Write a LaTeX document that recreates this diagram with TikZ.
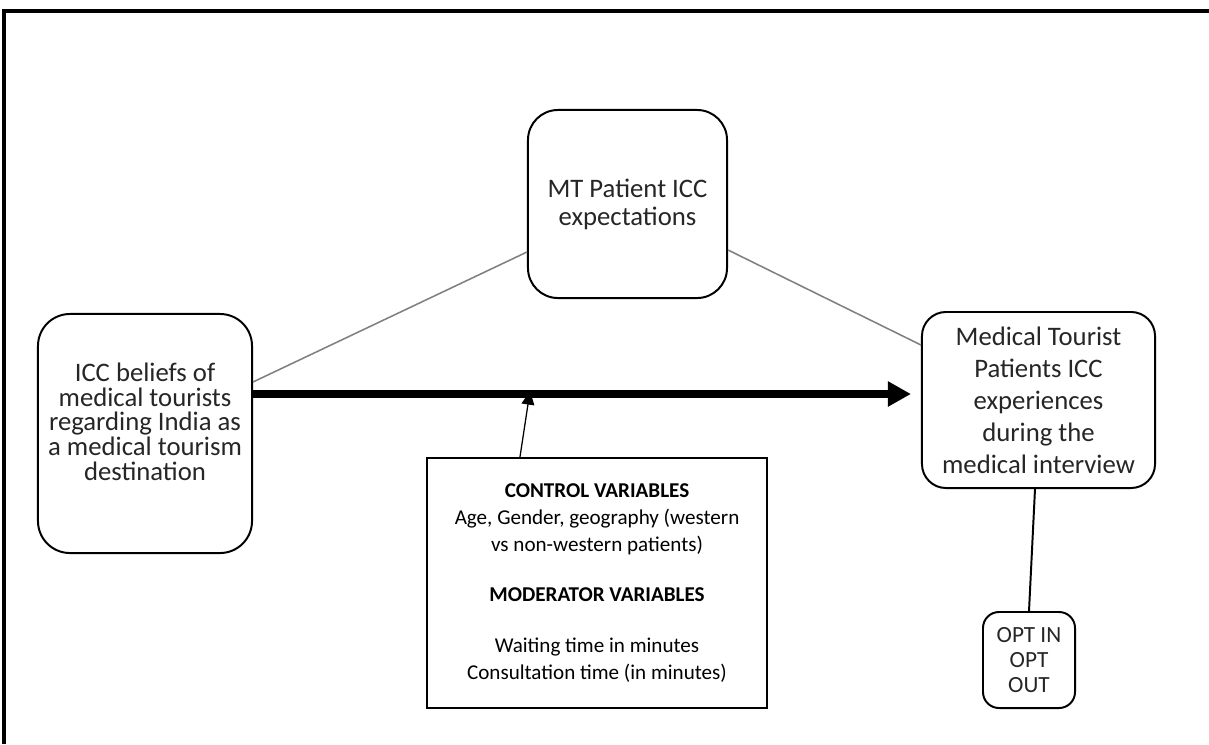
\documentclass[tikz,border=0pt]{standalone}
\usepackage{fontspec}
\setmainfont{Carlito}
\usetikzlibrary{positioning,calc,arrows.meta}
\definecolor{linkgray}{RGB}{128,128,128}
\definecolor{textdark}{RGB}{38,38,38}

\begin{document}
\begin{tikzpicture}[
  x=0.025cm, y=-0.025cm,
  concept/.style={draw=black,line width=1.4pt,rounded corners=#1,fill=white,
                  align=center,inner sep=0pt,text=textdark},
  concept/.default=0.75cm,
  ctrlbox/.style={draw=black,line width=1.6pt,fill=white,align=center,inner sep=0pt},
  link/.style={draw=linkgray,line width=1.1pt},
  mainarrow/.style={line width=5pt,-{Triangle[length=0.58cm,width=0.6cm]}},
  modarrow/.style={line width=0.9pt,-{Triangle[length=0.34cm,width=0.32cm]}}
]
  \useasboundingbox (0,0) rectangle (1209,744);
  % open frame, top and left side only
  \draw[line width=2.2pt] (4,744) -- (4,11) -- (1209,11);

  \node[concept=0.8cm, minimum width=5.35cm, minimum height=5.975cm,
        font=\fontsize{19}{17.6}\selectfont] (beliefs) at (145,433.5)
    {ICC beliefs of\\medical tourists\\regarding India as\\a medical tourism\\destination\\[-0.6pt]\mbox{}};
  \node[concept=0.75cm, minimum width=4.975cm, minimum height=4.7cm,
        font=\fontsize{19}{20}\selectfont] (expect) at (627.5,204)
    {MT Patient ICC\\expectations};
  \node[concept=0.6cm, minimum width=5.825cm, minimum height=4.4cm,
        font=\fontsize{19}{22.7}\selectfont] (experience) at (1038.5,400)
    {Medical Tourist\\Patients ICC\\experiences\\during the\\medical interview};
  \node[ctrlbox, minimum width=8.5cm, minimum height=6.25cm,
        font=\fontsize{15}{19}\selectfont] (control) at (597,583)
    {\textbf{CONTROL VARIABLES}\\Age, Gender, geography (western\\vs non-western patients)\\[0.6cm]
     \textbf{MODERATOR VARIABLES}\\[0.6cm]Waiting time in minutes\\Consultation time (in minutes)};
  \node[concept=0.4cm, minimum width=2.3cm, minimum height=2.4cm,
        font=\fontsize{16.5}{17.7}\selectfont] (optbox) at (1029,660)
    {OPT IN\\OPT\\OUT};

  % main path and links
  \coordinate (axis) at ($(beliefs.east)+(0,-39.5)$);
  \draw[mainarrow, shorten >=0.25cm] (axis) -- (axis -| experience.west);
  \draw[link] ($(beliefs.east)+(0,-51.5)$) -- ($(expect.west)+(0,48)$);
  \draw[link] ($(expect.east)+(0,46)$) -- ($(experience.west)+(0,-55)$);
  \draw[modarrow] ($(control.north)+(-77,0)$) -- ($(axis -| control.north)+(-67,-3)$);
  \draw[line width=1.4pt] ($(experience.south)+(-3.5,0)$) -- (optbox.north);
\end{tikzpicture}
\end{document}
